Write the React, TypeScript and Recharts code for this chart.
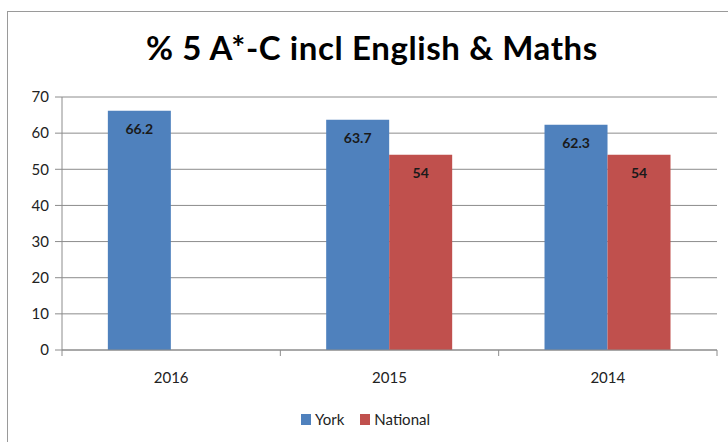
import React from "react";
import { BarChart, Bar, XAxis, YAxis, CartesianGrid, Legend, LabelList } from "recharts";

const categories = ["2016", "2015", "2014"];
const yorkValues = [66.2, 63.7, 62.3];
const nationalValues: (number | null)[] = [null, 54, 54];
const yTicks = [0, 10, 20, 30, 40, 50, 60, 70];
const seriesNames = ["York", "National"];
const seriesColors = ["#4F81BD", "#C0504D"];

const data = categories.map((c, i) => ({ year: c, York: yorkValues[i], National: nationalValues[i] }));

const W = 728;
const H = 442;
const M = { top: 97, right: 11, left: 22, bottom: 13 };
const Y_W = 40;
const BAND = (W - M.left - Y_W - M.right) / categories.length;
const FONT = "Lato, 'Open Sans', sans-serif";

const XTick = (props: any) => {
  const { x, y, payload, index } = props;
  const left = x - BAND / 2;
  const right = x + BAND / 2;
  return (
    <g>
      <line x1={left} y1={y} x2={left} y2={y + 6} stroke="#8c8c8c" />
      {index === categories.length - 1 && <line x1={right} y1={y} x2={right} y2={y + 6} stroke="#8c8c8c" />}
      <text x={x} y={y + 33} textAnchor="middle" fontSize={15} fill="#222" fontFamily={FONT}>
        {payload.value}
      </text>
    </g>
  );
};

const LegendContent = () => (
  <div style={{ display: "flex", justifyContent: "center", alignItems: "center", fontFamily: FONT, fontSize: 15, color: "#222", height: 20, paddingRight: 8 }}>
    {seriesNames.map((n, i) => (
      <span key={n} style={{ display: "inline-flex", alignItems: "center", marginRight: i === 0 ? 16 : 0 }}>
        <span style={{ display: "inline-block", width: 10, height: 11, background: seriesColors[i], marginRight: 4 }} />
        {n}
      </span>
    ))}
  </div>
);

export default function App() {
  return (
    <div style={{ position: "absolute", left: 0, top: 0, width: W, height: H, overflow: "hidden", background: "#fff" }}>
      <div style={{ position: "absolute", left: 7, top: 11, width: 760, height: 480, border: "1px solid #9a9a9a" }} />
      <div
        style={{
          position: "absolute",
          left: 8,
          width: W,
          top: 27,
          textAlign: "center",
          fontFamily: FONT,
          fontWeight: 700,
          fontSize: 33,
          letterSpacing: "0.6px",
          color: "#000",
        }}
      >
        % 5 A*-C incl English &amp; Maths
      </div>
      <div style={{ position: "absolute", left: 0, top: 0 }}>
        <BarChart width={W} height={H} data={data} margin={M} barCategoryGap="21%" barGap={0}>
          <CartesianGrid vertical={false} stroke="#8c8c8c" />
          <XAxis
            dataKey="year"
            stroke="#8c8c8c"
            tickLine={false}
            tickSize={0}
            tickMargin={0}
            height={59}
            tick={<XTick />}
            interval={0}
          />
          <YAxis
            width={Y_W}
            domain={[0, 70]}
            ticks={yTicks}
            stroke="#8c8c8c"
            tickSize={7}
            tickMargin={6}
            tick={{ fill: "#222", fontSize: 15, fontFamily: FONT }}
          />
          <Legend verticalAlign="bottom" align="center" content={<LegendContent />} />
          <Bar dataKey="York" fill={seriesColors[0]} isAnimationActive={false}>
            <LabelList dataKey="York" position="insideTop" offset={13} fill="#1a1a1a" fontSize={14} fontWeight={700} fontFamily={FONT} />
          </Bar>
          <Bar dataKey="National" fill={seriesColors[1]} isAnimationActive={false}>
            <LabelList dataKey="National" position="insideTop" offset={13} fill="#1a1a1a" fontSize={14} fontWeight={700} fontFamily={FONT} />
          </Bar>
        </BarChart>
      </div>
    </div>
  );
}
